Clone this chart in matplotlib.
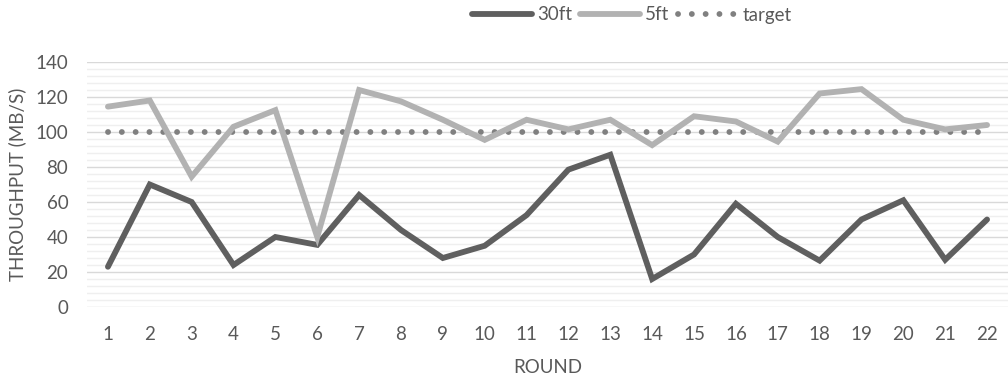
import numpy as np
import matplotlib
matplotlib.use("Agg")
import matplotlib.pyplot as plt
from matplotlib.ticker import MultipleLocator

plt.rcParams['font.family'] = ['Lato', 'DejaVu Sans']

rounds = list(range(1, 23))
thirty_ft = [23, 70, 60, 24, 40, 35.5, 64, 44, 28, 35, 52.5, 78.5, 87, 16,
             30, 59, 40, 26.5, 50, 61, 27, 50]
five_ft = [114.5, 118, 74.5, 103, 112.5, 40, 124, 117.5, 107, 95.5, 107, 101.5,
           107, 92.5, 109, 106, 94.5, 122, 124.5, 107, 101.5, 104]
target = [100] * len(rounds)

text_col = '#595959'
lw = 4.2

fig = plt.figure(figsize=(10.08, 3.78), dpi=100)
ax = fig.add_axes([87 / 1008, 1 - 307 / 378, (1008 - 87) / 1008, 245 / 378])

ax.plot(rounds, thirty_ft, color='#5f5f5f', lw=lw, solid_capstyle='round',
        solid_joinstyle='miter', label='30ft', zorder=3)
ax.plot(rounds, five_ft, color='#b2b2b2', lw=lw, solid_capstyle='round',
        solid_joinstyle='miter', label='5ft', zorder=3)
ax.plot(rounds, target, color='#808080', lw=lw, linestyle=(0, (0.01, 9.9 / lw)),
        dash_capstyle='round', label='target', zorder=2)

ax.set_xlim(0.5, 22.5)
ax.set_ylim(0, 140)
ax.set_xticks(rounds)
ax.yaxis.set_major_locator(MultipleLocator(20))
ax.yaxis.set_minor_locator(MultipleLocator(4))
ax.grid(which='major', axis='y', color='#d9d9d9', lw=1.0, zorder=0)
ax.grid(which='minor', axis='y', color='#efefef', lw=1.0, zorder=0)
ax.set_axisbelow(True)
for s in ax.spines.values():
    s.set_visible(False)
ax.tick_params(which='both', length=0, labelsize=13.5, colors=text_col)
ax.tick_params(axis='y', pad=13.5)
ax.tick_params(axis='x', pad=14)

ax.set_xlabel('ROUND', fontsize=13.5, color=text_col, labelpad=11)
ax.set_ylabel('THROUGHPUT (MB/S)', fontsize=13.5, color=text_col, labelpad=7)

leg = fig.legend(loc='center', bbox_to_anchor=(632 / 1008, 1 - 15 / 378), ncol=3,
                 frameon=False, fontsize=13.5, handlelength=3.2, handletextpad=0.25,
                 columnspacing=0.45, labelcolor=text_col)
for h in leg.get_lines():
    h.set_solid_capstyle('round')

fig.savefig('out.png', dpi=100)
